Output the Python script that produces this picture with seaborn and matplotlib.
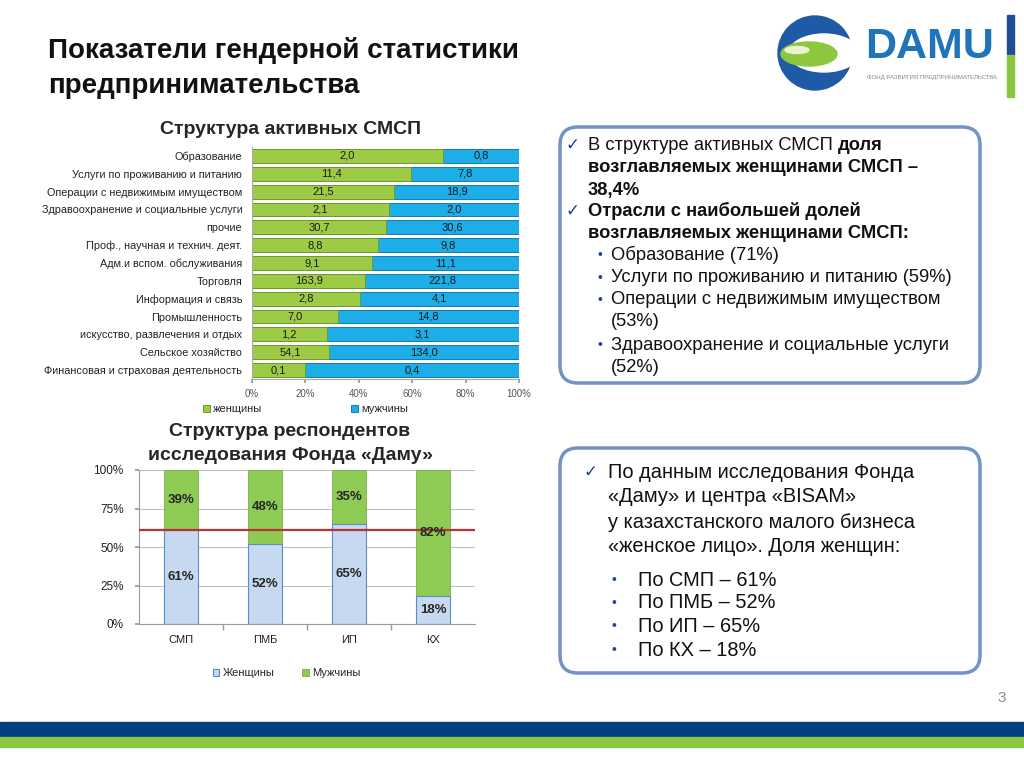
import numpy as np
import pandas as pd
import seaborn as sns
import matplotlib.pyplot as plt
from matplotlib.patches import FancyBboxPatch, Rectangle, Circle, Ellipse

sns.set_theme(style='white')
plt.rcParams['font.family'] = ['Liberation Sans', 'DejaVu Sans']

# --- data: structure of active SMEs (thousands), women / men
sectors = ['Образование', 'Услуги по проживанию и питанию',
           'Операции с недвижимым имуществом', 'Здравоохранение и социальные услуги',
           'прочие', 'Проф., научная и технич. деят.', 'Адм.и вспом. обслуживания',
           'Торговля', 'Информация и связь', 'Промышленность',
           'искусство, развлечения и отдых', 'Сельское хозяйство',
           'Финансовая и страховая деятельность']
women_k = [2.0, 11.4, 21.5, 2.1, 30.7, 8.8, 9.1, 163.9, 2.8, 7.0, 1.2, 54.1, 0.1]
men_k = [0.8, 7.8, 18.9, 2.0, 30.6, 9.8, 11.1, 221.8, 4.1, 14.8, 3.1, 134.0, 0.4]

# --- data: respondents of the Damu survey (%)
groups = ['СМП', 'ПМБ', 'ИП', 'КХ']
women_pct = [61, 52, 65, 18]
men_pct = [39, 48, 35, 82]
benchmark = 61

GREEN = '#9DCB45'
BLUE = '#1DAEE8'
LBLUE = '#C6D9F1'
MGREEN = '#8DCB55'

fig = plt.figure(figsize=(10.24, 7.68), dpi=100)
bg = fig.add_axes([0, 0, 1, 1])
bg.set_xlim(0, 1024)
bg.set_ylim(768, 0)
bg.axis('off')


def px_axes(x0, y0, x1, y1):
    return fig.add_axes([x0 / 1024, 1 - y1 / 768, (x1 - x0) / 1024, (y1 - y0) / 768])


# ---------------- slide decoration
bg.text(48, 50, 'Показатели гендерной статистики', fontsize=20,
        fontweight='bold', va='center', ha='left', color='#111111')
bg.text(48, 86, 'предпринимательства', fontsize=20,
        fontweight='bold', va='center', ha='left', color='#111111')

# logo
bg.add_patch(Circle((815, 53), 37, color='#1E5AA6'))
bg.add_patch(Ellipse((824, 53), 70, 38, color='white'))
bg.add_patch(Ellipse((809, 54), 56, 24, color='#8DC63F'))
bg.add_patch(Ellipse((797, 50), 24, 7, color='#E8F3D0'))
bg.text(865, 47, 'DAMU', fontsize=31, fontweight='bold', color='#1F74BA', va='center', ha='left')
bg.text(867, 77, 'ФОНД РАЗВИТИЯ ПРЕДПРИНИМАТЕЛЬСТВА', fontsize=4.3, color='#7A8A99',
        va='center', ha='left')
bg.add_patch(Rectangle((1007, 15), 7, 40, color='#1F4E96'))
bg.add_patch(Rectangle((1007, 55), 7, 42, color='#8DC63F'))

# bottom stripes and page number
bg.add_patch(Rectangle((0, 722), 1024, 15, color='#004080'))
bg.add_patch(Rectangle((0, 737), 1024, 10, color='#8DC63F'))
bg.text(1002, 698, '3', fontsize=11, color='#8C8C8C', ha='center', va='center')

# chart titles
bg.text(290, 130, 'Структура активных СМСП', fontsize=14, fontweight='bold', ha='center', va='center')
bg.text(290, 432, 'Структура респондентов', fontsize=14,
        fontweight='bold', ha='center', va='center')
bg.text(290, 455, 'исследования Фонда «Даму»', fontsize=14,
        fontweight='bold', ha='center', va='center')

# rounded text boxes
for y0, y1 in [(127, 383), (448, 673)]:
    bg.add_patch(FancyBboxPatch((560, y0), 420, y1 - y0, boxstyle='round,pad=0,rounding_size=18',
                                fc='white', ec='#7393C7', lw=2.5))

renderer = fig.canvas.get_renderer()


def runs(x, y, parts, size):
    for txt, bold in parts:
        t = bg.text(x, y, txt, fontsize=size, fontweight='bold' if bold else 'normal',
                    ha='left', va='center', color='#111111')
        x += t.get_window_extent(renderer).width


CHECK = '#1A3A9A'
BUL = '#2040B0'
fs1 = 13.2
bg.text(565, 145, '✓', fontsize=12, color=CHECK, va='center', family=['DejaVu Sans'])
runs(588, 145, [('В структуре активных СМСП ', False), ('доля', True)], fs1)
runs(588, 168, [('возглавляемых женщинами СМСП –', True)], fs1)
runs(588, 190, [('38,4%', True)], fs1)
bg.text(565, 211, '✓', fontsize=12, color=CHECK, va='center', family=['DejaVu Sans'])
runs(588, 211, [('Отрасли с наибольшей долей', True)], fs1)
runs(588, 233, [('возглавляемых женщинами СМСП:', True)], fs1)
for yy, txt, bullet in [(255, 'Образование (71%)', True),
                        (278, 'Услуги по проживанию и питанию (59%)', True),
                        (300, 'Операции с недвижимым имуществом', True),
                        (322, '(53%)', False),
                        (345, 'Здравоохранение и социальные услуги', True),
                        (367, '(52%)', False)]:
    if bullet:
        bg.text(597, yy, '•', fontsize=10, color=BUL, va='center', ha='left')
    runs(611, yy, [(txt, False)], fs1)

fs2 = 14.4
bg.text(584, 472, '✓', fontsize=12, color=CHECK, va='center', family=['DejaVu Sans'])
for yy, txt in [(472, 'По данным исследования Фонда'), (497, '«Даму» и центра «BISAM»'),
                (522, 'у казахстанского малого бизнеса'), (547, '«женское лицо». Доля женщин:')]:
    runs(608, yy, [(txt, False)], fs2)
for yy, g, v in zip([580, 603, 626, 650], groups, women_pct):
    bg.text(611, yy, '•', fontsize=10, color=BUL, va='center', ha='left')
    runs(638, yy, [(f'По {g} – {v}%', False)], fs2)

# ---------------- top chart: 100% stacked horizontal bars
tot = np.array(women_k) + np.array(men_k)
df1 = pd.DataFrame({'sector': sectors, 'total': 100.0,
                    'women': np.array(women_k) / tot * 100})
ax1 = px_axes(252, 147, 519, 379)
ax1.set_facecolor('none')
sns.barplot(data=df1, x='total', y='sector', color=BLUE, saturation=1, width=0.78,
            edgecolor='#157BB3', linewidth=0.7, ax=ax1, label='мужчины')
sns.barplot(data=df1, x='women', y='sector', color=GREEN, saturation=1, width=0.78,
            edgecolor='#6E9C2A', linewidth=0.7, ax=ax1, label='женщины')
for i, (w, m, s) in enumerate(zip(women_k, men_k, df1['women'])):
    ax1.text(s / 2, i, f'{w:.1f}'.replace('.', ','), ha='center', va='center',
             fontsize=8, color='#1A1A1A')
    ax1.text(s + (100 - s) / 2, i, f'{m:.1f}'.replace('.', ','), ha='center', va='center',
             fontsize=8, color='#1A1A1A')
ax1.set_xlim(0, 100)
ax1.set_xticks(range(0, 101, 20))
ax1.set_xticklabels([f'{v}%' for v in range(0, 101, 20)], fontsize=7, color='#555555')
ax1.tick_params(axis='x', length=3, color='#999999', pad=4, bottom=True)
ax1.tick_params(axis='y', length=0, pad=7, labelsize=7.8, labelcolor='#222222')
ax1.set_xlabel('')
ax1.set_ylabel('')
for side in ['top', 'right']:
    ax1.spines[side].set_visible(False)
for side in ['left', 'bottom']:
    ax1.spines[side].set_color('#AAAAAA')
    ax1.spines[side].set_linewidth(0.8)
h, l = ax1.get_legend_handles_labels()
ax1.legend(h[::-1], l[::-1], loc='center', bbox_to_anchor=(0.2, -0.13), ncol=2, frameon=False,
           fontsize=8, handlelength=0.6, handleheight=0.6, handletextpad=0.3, columnspacing=8)

# ---------------- bottom chart: respondents
df2 = pd.DataFrame({'group': groups, 'total': 100, 'women': women_pct, 'men': men_pct})
ax2 = px_axes(139, 470, 475, 624)
ax2.set_facecolor('none')
for yv in [25, 50, 75, 100]:
    ax2.axhline(yv, color='#BFBFBF', lw=0.8, zorder=0)
sns.barplot(data=df2, x='group', y='total', color=MGREEN, saturation=1, width=0.4,
            edgecolor='#7DB04A', linewidth=0.6, ax=ax2, label='Мужчины', zorder=2)
sns.barplot(data=df2, x='group', y='women', color=LBLUE, saturation=1, width=0.4,
            edgecolor='#5B8CC5', linewidth=0.8, ax=ax2, label='Женщины', zorder=2)
ax2.axhline(benchmark, color='#B83236', lw=1.6, zorder=3)
for i, (w, m) in enumerate(zip(women_pct, men_pct)):
    ax2.text(i, w / 2, f'{w}%', ha='center', va='center', fontsize=9.5, fontweight='bold', zorder=4)
    ax2.text(i, w + m / 2, f'{m}%', ha='center', va='center', fontsize=9.5, fontweight='bold', zorder=4)
ax2.set_ylim(0, 100)
ax2.set_xlim(-0.5, 3.5)
ax2.set_yticks([0, 25, 50, 75, 100])
ax2.set_yticklabels([f'{v}%' for v in [0, 25, 50, 75, 100]], fontsize=8.5, color='#222222')
ax2.tick_params(axis='y', length=3, color='#999999', pad=8, left=True)
ax2.tick_params(axis='x', length=0, pad=8, labelsize=8, labelcolor='#222222')
ax2.set_xticks([0.5, 1.5, 2.5], minor=True)
ax2.tick_params(axis='x', which='minor', length=4, color='#999999', bottom=True)
ax2.set_xlabel('')
ax2.set_ylabel('')
for side in ['top', 'right']:
    ax2.spines[side].set_visible(False)
for side in ['left', 'bottom']:
    ax2.spines[side].set_color('#999999')
    ax2.spines[side].set_linewidth(0.8)
h, l = ax2.get_legend_handles_labels()
ax2.legend(h[::-1], l[::-1], loc='center', bbox_to_anchor=(0.44, -0.32), ncol=2, frameon=False,
           fontsize=8, handlelength=0.6, handleheight=0.6, handletextpad=0.3, columnspacing=2.5)

fig.savefig('out.png', dpi=100)
